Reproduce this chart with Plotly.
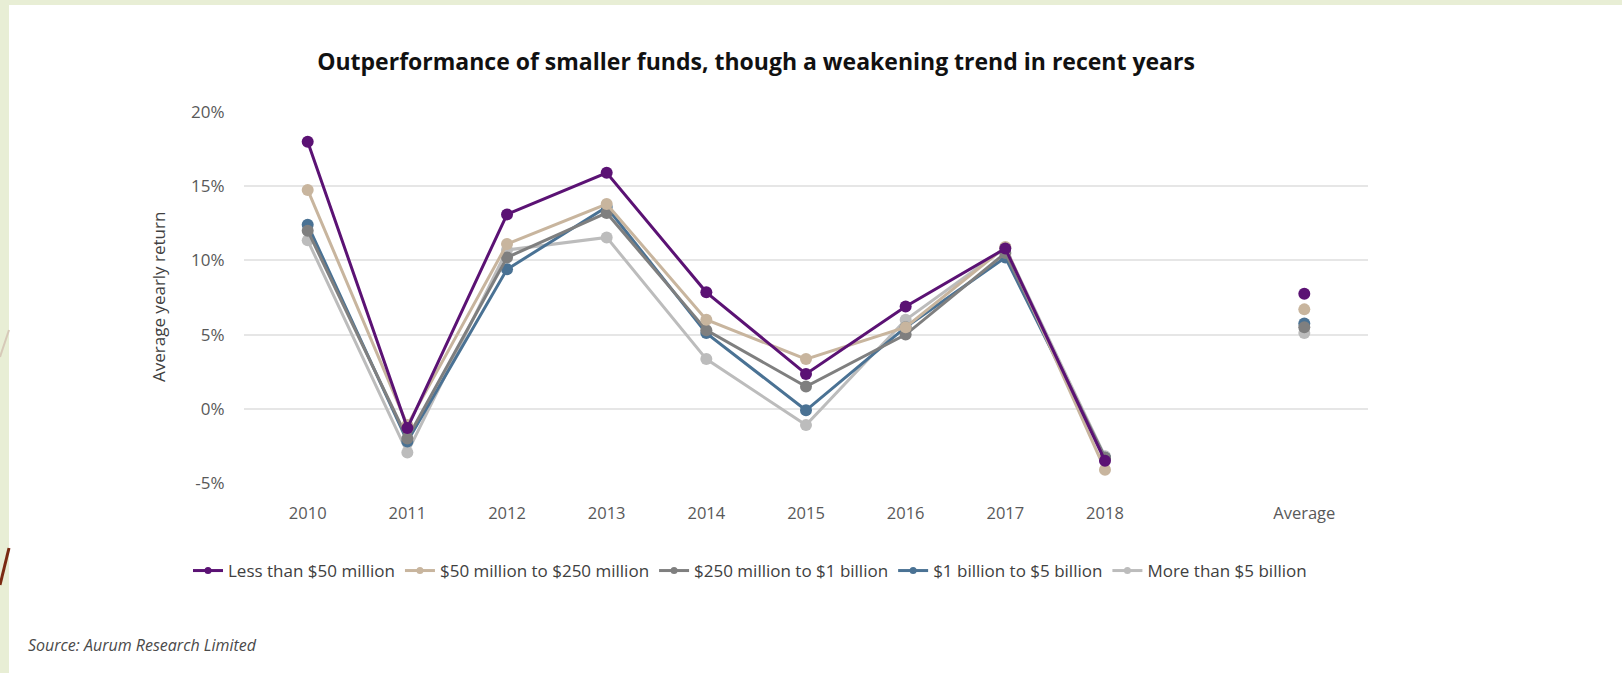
import plotly.graph_objects as go

categories = ["2010", "2011", "2012", "2013", "2014", "2015", "2016", "2017", "2018", " ", "Average"]

series_names = [
    "Less than $50 million",
    "$50 million to $250 million",
    "$250 million to $1 billion",
    "$1 billion to $5 billion",
    "More than $5 billion",
]

less_50m = [18.0, -1.3, 13.1, 15.9, 7.85, 2.35, 6.9, 10.8, -3.5, None, 7.75]
m50_250m = [14.75, -1.1, 11.1, 13.8, 6.0, 3.35, 5.5, 10.9, -4.1, None, 6.7]
m250_1b = [12.0, -2.0, 10.2, 13.2, 5.3, 1.5, 5.0, 10.5, -3.3, None, 5.5]
b1_5b = [12.4, -2.2, 9.4, 13.6, 5.1, -0.1, 5.5, 10.2, -3.3, None, 5.75]
more_5b = [11.35, -2.95, 10.7, 11.55, 3.35, -1.1, 6.0, 10.85, -3.2, None, 5.1]

values = [less_50m, m50_250m, m250_1b, b1_5b, more_5b]
colors = ["#5b1274", "#c8b59e", "#7f7f7f", "#4a7294", "#bcbcbc"]

y_ticks = [-5, 0, 5, 10, 15, 20]
y_tick_labels = ["-5%", "0%", "5%", "10%", "15%", "20%"]

W, H = 1622, 673
L, R, T, B = 244, 1368, 112, 483

fig = go.Figure()
# draw in reverse so the first series is on top
order = [4, 3, 2, 1, 0]
for i in order:
    fig.add_trace(go.Scatter(
        x=categories, y=values[i], name=series_names[i],
        mode="lines+markers",
        line=dict(color=colors[i], width=3),
        marker=dict(color=colors[i], size=12),
        connectgaps=False, showlegend=False,
    ))
# legend entries with small dot symbols
for i in range(5):
    fig.add_trace(go.Scatter(
        x=[None], y=[None], name=series_names[i],
        mode="lines+markers",
        line=dict(color=colors[i], width=3),
        marker=dict(color=colors[i], size=7),
        showlegend=True,
    ))

def px_x(px):
    return (px - L) / (R - L)

def px_y(py):
    return (B - py) / (B - T)

shapes = [
    dict(type="rect", xref="paper", yref="paper", layer="below",
         x0=px_x(9), x1=px_x(W + 5), y0=px_y(H + 5), y1=px_y(5),
         fillcolor="white", line=dict(width=0)),
    dict(type="line", xref="paper", yref="paper",
         x0=px_x(0), y0=px_y(357), x1=px_x(9), y1=px_y(330),
         line=dict(color="#d6c9b8", width=2)),
    dict(type="line", xref="paper", yref="paper",
         x0=px_x(0), y0=px_y(585), x1=px_x(9), y1=px_y(548),
         line=dict(color="#7a2a12", width=3)),
]

fig.update_layout(
    width=W, height=H,
    margin=dict(l=L, r=W - R, t=T, b=H - B, pad=0),
    paper_bgcolor="#e8eed5",
    plot_bgcolor="white",
    shapes=shapes,
    font=dict(family="Open Sans", color="#595959", size=17),
    title=dict(
        text="<b>Outperformance of smaller funds, though a weakening trend in recent years</b>",
        font=dict(family="Open Sans", size=23, color="#111111"),
        x=756 / W, xref="container", xanchor="center",
        y=1 - 62 / H, yref="container", yanchor="middle",
    ),
    xaxis=dict(
        type="category", categoryorder="array", categoryarray=categories,
        showgrid=False, zeroline=False, showline=False,
        ticks="outside", ticklen=15, tickcolor="rgba(0,0,0,0)",
        tickfont=dict(size=16.5, color="#595959"),
    ),
    yaxis=dict(
        range=[-5, 20], tickvals=y_ticks, ticktext=y_tick_labels,
        showgrid=True, gridcolor="#e6e6e6", gridwidth=2,
        zeroline=False, showline=False,
        ticks="outside", ticklen=15, tickcolor="rgba(0,0,0,0)",
        tickfont=dict(size=17, color="#595959"),
    ),
    legend=dict(
        orientation="h", x=px_x(750), xanchor="center",
        y=px_y(571), yanchor="middle",
        font=dict(size=17, color="#404040"),
        bgcolor="rgba(0,0,0,0)", tracegroupgap=0,
    ),
    annotations=[
        dict(text="Average yearly return", textangle=-90,
             xref="paper", yref="paper", x=px_x(158), y=px_y(297),
             xanchor="center", yanchor="middle", showarrow=False,
             font=dict(size=17, color="#404040")),
        dict(text="<i>Source: Aurum Research Limited</i>",
             xref="paper", yref="paper", x=px_x(26), y=px_y(645),
             xanchor="left", yanchor="middle", showarrow=False,
             font=dict(size=16, color="#4a4a4a")),
    ],
    showlegend=True,
)

fig.write_html("out.html", config={"displayModeBar": False},
               post_script="document.body.style.margin='0';document.body.style.padding='0';")
